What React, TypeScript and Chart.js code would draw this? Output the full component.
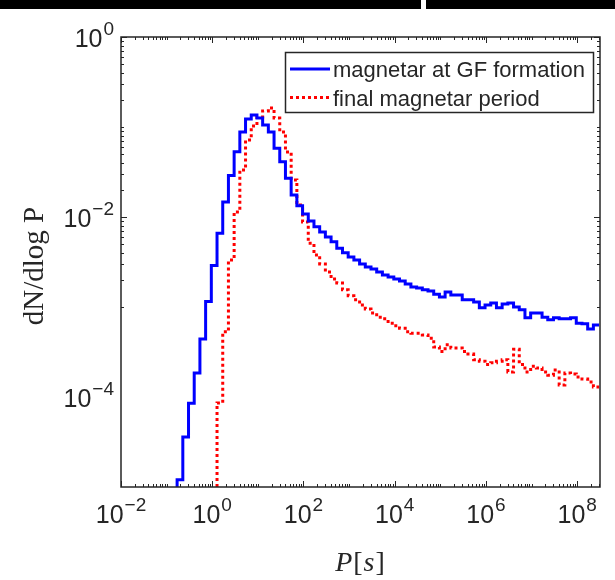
import React, { useEffect, useRef } from "react";
import { Chart, registerables } from "chart.js";

Chart.register(...registerables);

// ---- Data -------------------------------------------------------------
// Histogram bins, uniform in log10(P)
const BIN_START_LOG10 = -0.77;
const BIN_WIDTH_LOG10 = 0.125;
const N_BINS = 74;
const BIN_EDGES: number[] = Array.from({ length: N_BINS + 1 }, (_, i) =>
  Math.pow(10, BIN_START_LOG10 + i * BIN_WIDTH_LOG10)
);

const BLUE_LABEL = "magnetar at GF formation";
const BLUE_FIRST_BIN = 0;
const BLUE_VALUES = [
  1.2e-5, 3.6e-5, 8.5e-5, 1.85e-4, 4.4e-4, 1.15e-3, 2.9e-3, 6.6e-3, 1.47e-2, 2.9e-2,
  5.3e-2, 8.8e-2, 0.123, 0.136, 0.126, 0.105, 0.088, 0.058, 0.041, 0.027,
  0.0176, 0.0133, 0.0108, 0.009, 0.0078, 0.0068, 0.006, 0.0053, 0.0045, 0.004,
  0.0036, 0.00333, 0.003, 0.00278, 0.00264, 0.00245, 0.00227, 0.00215, 0.00205, 0.00195,
  0.0018, 0.00167, 0.00163, 0.00155, 0.00151, 0.00139, 0.00129, 0.00147, 0.00136, 0.00136,
  0.0012, 0.0012, 0.00114, 0.00098, 0.00105, 0.00111, 0.00098, 0.00108, 0.00111, 0.001,
  0.00093, 0.00076, 0.00086, 0.00086, 0.00077, 0.00072, 0.00076, 0.00074, 0.00074, 0.00076,
  0.00066, 0.00065, 0.00057, 0.00063,
];

const RED_LABEL = "final magnetar period";
const RED_FIRST_BIN = 7;
const RED_VALUES = [
  8.6e-5, 5.3e-4, 3.33e-3, 0.0114, 0.0333, 0.0717, 0.1026, 0.129, 0.1507, 0.1627,
  0.126, 0.088, 0.0528, 0.0258, 0.0136, 0.0088, 0.0051, 0.00378, 0.003, 0.00245,
  0.00205, 0.00185, 0.00155, 0.00133, 0.0012, 0.00105, 0.00095, 0.00086, 0.00077, 0.00074,
  0.00066, 0.00062, 0.00058, 0.00053, 0.00051, 0.00051, 0.00049, 0.00045, 0.00036, 0.00032,
  0.00038, 0.00035, 0.00035, 0.00032, 0.0003, 0.00026, 0.00025, 0.00023, 0.00024, 0.00025,
  0.00026, 0.00019, 0.00034, 0.00023, 0.00019, 0.00022, 0.00021, 0.00019, 0.000175, 0.0002,
  0.000136, 0.000185, 0.00018, 0.000167, 0.000158, 0.000147, 0.000129,
];

const X_TICK_EXPONENTS = [-2, 0, 2, 4, 6, 8];
const Y_TICK_EXPONENTS = [0, -2, -4];
const X_MIN = 1e-2;
const X_MAX = Math.pow(10, 8.5);
const Y_MIN = 1e-5;
const Y_MAX = 1;
const X_TITLE_PARTS = [
  { t: "P", italic: true },
  { t: "[", italic: false },
  { t: "s", italic: true },
  { t: "]", italic: false },
];
const Y_TITLE = "dN/dlog P";

// ---- Helpers ----------------------------------------------------------
const FLOOR = 1e-8; // empty bin (drawn below the axis, clipped)
function stairs(firstBin: number, values: number[]) {
  const pts: { x: number; y: number }[] = [{ x: BIN_EDGES[firstBin], y: FLOOR }];
  values.forEach((v, i) => pts.push({ x: BIN_EDGES[firstBin + i], y: v }));
  pts.push({ x: BIN_EDGES[firstBin + values.length], y: values[values.length - 1] });
  return pts;
}

const AXIS_COLOR = "#262626";
const SANS = '"Liberation Sans", Arial, sans-serif';
const SERIF = '"Liberation Serif", "Times New Roman", serif';

function drawPow(ctx: CanvasRenderingContext2D, exp: number, x: number, baseY: number, align: "center" | "right") {
  const base = "10";
  const e = exp < 0 ? "\u2212" + String(-exp) : String(exp);
  ctx.font = `25px ${SANS}`;
  const wb = ctx.measureText(base).width;
  ctx.font = `19px ${SANS}`;
  const we = ctx.measureText(e).width;
  const total = wb + 1 + we;
  const x0 = align === "center" ? x - total / 2 : x - total;
  ctx.textAlign = "left";
  ctx.textBaseline = "alphabetic";
  ctx.font = `25px ${SANS}`;
  ctx.fillText(base, x0, baseY);
  ctx.font = `19px ${SANS}`;
  ctx.fillText(e, x0 + wb + 1, baseY - 12);
}

const overlay = {
  id: "overlay",
  beforeDraw(chart: any) {
    const ctx = chart.ctx as CanvasRenderingContext2D;
    ctx.save();
    ctx.fillStyle = "#ffffff";
    ctx.fillRect(0, 0, chart.width, chart.height);
    ctx.restore();
  },
  afterDatasetsDraw(chart: any) {
    const ctx = chart.ctx as CanvasRenderingContext2D;
    const { left, right, top, bottom } = chart.chartArea;
    const xs = chart.scales.x;
    const ys = chart.scales.y;
    ctx.save();

    // top black strip of the figure
    ctx.fillStyle = "#000000";
    ctx.fillRect(0, 0, chart.width, 9);
    ctx.fillStyle = "#ffffff";
    ctx.fillRect(421, 0, 5, 9);

    // ticks (inward, all four sides)
    ctx.strokeStyle = AXIS_COLOR;
    ctx.lineWidth = 1;
    ctx.beginPath();
    for (let e = -3; e <= 9; e++) {
      for (let m = 1; m <= 9; m++) {
        const v = m * Math.pow(10, e);
        if (v >= X_MIN * 0.999 && v <= X_MAX) {
          const px = Math.round(xs.getPixelForValue(v)) + 0.5;
          const major = m === 1 && X_TICK_EXPONENTS.includes(e);
          const len = major ? 6 : 3;
          ctx.moveTo(px, bottom);
          ctx.lineTo(px, bottom - len);
          ctx.moveTo(px, top);
          ctx.lineTo(px, top + len);
        }
        if (v >= Y_MIN * 0.999 && v <= Y_MAX * 1.001) {
          const py = Math.round(ys.getPixelForValue(v)) + 0.5;
          const major = m === 1 && Y_TICK_EXPONENTS.includes(e);
          const len = major ? 6 : 3;
          ctx.moveTo(left, py);
          ctx.lineTo(left + len, py);
          ctx.moveTo(right, py);
          ctx.lineTo(right - len, py);
        }
      }
    }
    ctx.stroke();

    // frame
    ctx.lineWidth = 1.5;
    ctx.strokeRect(left, top, right - left, bottom - top);

    // tick labels
    ctx.fillStyle = AXIS_COLOR;
    X_TICK_EXPONENTS.forEach((e) => {
      const px = xs.getPixelForValue(Math.pow(10, e));
      drawPow(ctx, e, px, bottom + 36, "center");
    });
    Y_TICK_EXPONENTS.forEach((e) => {
      const py = ys.getPixelForValue(Math.pow(10, e));
      drawPow(ctx, e, left - 7, py + 10, "right");
    });

    // x title
    ctx.fillStyle = AXIS_COLOR;
    const fontFor = (it: boolean) => `${it ? "italic " : ""}28px ${SERIF}`;
    let tw = 0;
    X_TITLE_PARTS.forEach((p) => {
      ctx.font = fontFor(p.italic);
      tw += ctx.measureText(p.t).width + 1;
    });
    let tx = (left + right) / 2 - tw / 2;
    ctx.textAlign = "left";
    ctx.textBaseline = "alphabetic";
    X_TITLE_PARTS.forEach((p) => {
      ctx.font = fontFor(p.italic);
      ctx.fillText(p.t, tx, 571);
      tx += ctx.measureText(p.t).width + 1;
    });

    // y title
    ctx.save();
    ctx.translate(43, (top + bottom) / 2 + 4);
    ctx.rotate(-Math.PI / 2);
    ctx.font = `29px ${SERIF}`;
    ctx.textAlign = "center";
    ctx.textBaseline = "alphabetic";
    ctx.fillText(Y_TITLE, 0, 0);
    ctx.restore();

    // legend (box inside the axes, top right)
    const lx = 285.5, ly = 52.5, lw = 308, lh = 60;
    ctx.fillStyle = "#ffffff";
    ctx.fillRect(lx, ly, lw, lh);
    ctx.strokeStyle = AXIS_COLOR;
    ctx.lineWidth = 1.5;
    ctx.strokeRect(lx, ly, lw, lh);
    chart.data.datasets.forEach((ds: any, i: number) => {
      const baseY = 77 + i * 28.5;
      const lineY = baseY - 8;
      ctx.save();
      ctx.strokeStyle = ds.borderColor;
      ctx.lineWidth = ds.borderWidth;
      ctx.setLineDash(ds.borderDash || []);
      ctx.beginPath();
      ctx.moveTo(290, lineY);
      ctx.lineTo(330, lineY);
      ctx.stroke();
      ctx.restore();
      ctx.fillStyle = AXIS_COLOR;
      ctx.font = `22px ${SANS}`;
      ctx.textAlign = "left";
      ctx.textBaseline = "alphabetic";
      ctx.fillText(ds.label, 333, baseY);
    });

    ctx.restore();
  },
};

export default function App() {
  const ref = useRef<HTMLCanvasElement>(null);
  useEffect(() => {
    if (!ref.current) return;
    const chart = new Chart(ref.current, {
      type: "line",
      data: {
        datasets: [
          {
            label: BLUE_LABEL,
            data: stairs(BLUE_FIRST_BIN, BLUE_VALUES),
            borderColor: "#0000ff",
            borderWidth: 3,
            stepped: "before",
            pointRadius: 0,
            fill: false,
            borderJoinStyle: "miter",
          },
          {
            label: RED_LABEL,
            data: stairs(RED_FIRST_BIN, RED_VALUES),
            borderColor: "#ff0000",
            borderWidth: 3,
            borderDash: [3, 3],
            borderCapStyle: "butt",
            stepped: "before",
            pointRadius: 0,
            fill: false,
            borderJoinStyle: "miter",
          },
        ],
      } as any,
      options: {
        animation: false,
        responsive: false,
        maintainAspectRatio: false,
        layout: { padding: { top: 37, right: 15, left: 0, bottom: 0 } },
        plugins: {
          legend: { display: false },
          tooltip: { enabled: false },
          title: { display: false },
        },
        scales: {
          x: {
            type: "logarithmic",
            min: X_MIN,
            max: X_MAX,
            grid: { display: false },
            border: { display: false },
            ticks: { display: false },
            afterFit: (s: any) => {
              s.height = 93;
            },
          },
          y: {
            type: "logarithmic",
            min: Y_MIN,
            max: Y_MAX,
            grid: { display: false },
            border: { display: false },
            ticks: { display: false },
            afterFit: (s: any) => {
              s.width = 121;
            },
          },
        },
      } as any,
      plugins: [overlay],
    });
    return () => chart.destroy();
  }, []);

  return (
    <div style={{ position: "absolute", left: 0, top: 0, width: 615, height: 580, background: "#fff" }}>
      <canvas ref={ref} width={615} height={580} style={{ display: "block", width: 615, height: 580 }} />
    </div>
  );
}
